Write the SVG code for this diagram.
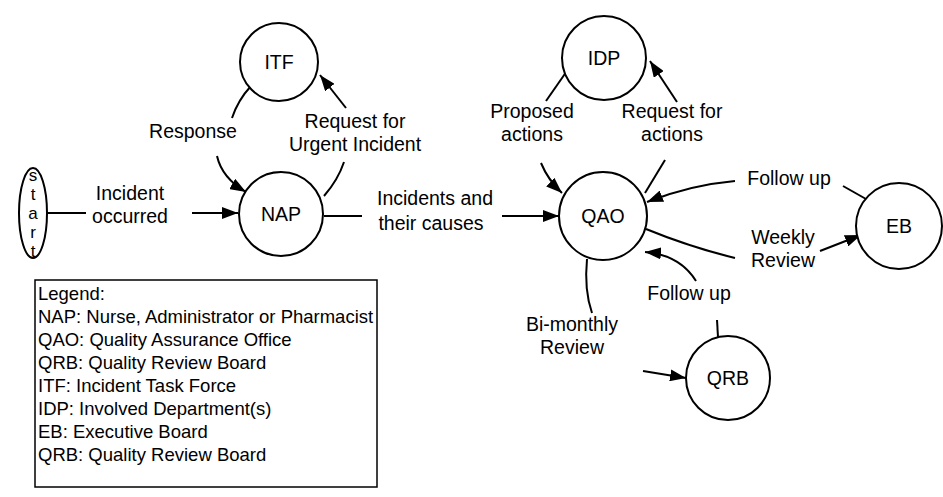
<svg xmlns="http://www.w3.org/2000/svg" width="943" height="497" viewBox="0 0 943 497">
<style>
  .node { fill: #fff; stroke: #000; stroke-width: 2; }
  .lbl { font-family: "Liberation Sans", Arial, sans-serif; font-size: 19.5px; fill: #000; text-anchor: middle; }
  .leg { font-family: "Liberation Sans", Arial, sans-serif; font-size: 18.5px; fill: #000; }
  .c { fill: none; stroke: #000; stroke-width: 2; }
  .vert { writing-mode: vertical-rl; text-orientation: upright; font-size: 17px; }
</style>
<defs>
  <marker id="a" viewBox="0 0 16 12" refX="16" refY="6" markerWidth="16" markerHeight="12" markerUnits="userSpaceOnUse" orient="auto">
    <path d="M0,0 L16,6 L0,12 z" fill="#000"/>
  </marker>
</defs>
<rect width="943" height="497" fill="#fff"/>

<g id="connectors">
  <!-- start -> NAP -->
  <path class="c" d="M47,213 L86,213"/>
  <path class="c" d="M192,213 L238,213" marker-end="url(#a)"/>
  <!-- ITF -> NAP Response -->
  <path class="c" d="M251,86 Q238,100 232,118"/>
  <path class="c" d="M217,156 Q222,178 246,192" marker-end="url(#a)"/>
  <!-- NAP -> ITF Request -->
  <path class="c" d="M324,196 Q338,180 344,162"/>
  <path class="c" d="M346,108 L320,75" marker-end="url(#a)"/>
  <!-- NAP -> QAO -->
  <path class="c" d="M324,216 L362,216"/>
  <path class="c" d="M502,216 L559,216" marker-end="url(#a)"/>
  <!-- IDP -> QAO Proposed -->
  <path class="c" d="M569,68 L546,101"/>
  <path class="c" d="M541,163 Q548,180 562,193" marker-end="url(#a)"/>
  <!-- QAO -> IDP Request for actions -->
  <path class="c" d="M645,193 L665,160"/>
  <path class="c" d="M677,102 L650,61" marker-end="url(#a)"/>
  <!-- EB -> QAO Follow up -->
  <path class="c" d="M843,186 L866,199"/>
  <path class="c" d="M735,181 Q690,185 647,202" marker-end="url(#a)"/>
  <!-- QAO -> EB Weekly Review -->
  <path class="c" d="M646,229 Q690,247 735,258"/>
  <path class="c" d="M820,251 L861,235" marker-end="url(#a)"/>
  <!-- QRB -> QAO Follow up -->
  <path class="c" d="M717,320 L718,337"/>
  <path class="c" d="M696,281 Q680,255 645,252" marker-end="url(#a)"/>
  <!-- QAO -> QRB Bi-monthly -->
  <path class="c" d="M587,259 Q584,290 592,313"/>
  <path class="c" d="M643,371 Q662,374 686,378" marker-end="url(#a)"/>
</g>

<g id="start">
  <ellipse class="node" cx="33" cy="213" rx="14" ry="45"/>
  <text class="lbl vert" x="33" y="213">start</text>
</g>
<g id="NAP">
  <circle class="node" cx="281" cy="214" r="42"/>
  <text class="lbl" x="281" y="221">NAP</text>
</g>
<g id="ITF">
  <circle class="node" cx="279" cy="62" r="39"/>
  <text class="lbl" x="279" y="69">ITF</text>
</g>
<g id="QAO">
  <circle class="node" cx="603" cy="216" r="44"/>
  <text class="lbl" x="603" y="223">QAO</text>
</g>
<g id="IDP">
  <circle class="node" cx="604" cy="58" r="42"/>
  <text class="lbl" x="604" y="65">IDP</text>
</g>
<g id="EB">
  <circle class="node" cx="899" cy="226" r="43"/>
  <text class="lbl" x="899" y="233">EB</text>
</g>
<g id="QRB">
  <circle class="node" cx="728" cy="378" r="42"/>
  <text class="lbl" x="728" y="385">QRB</text>
</g>

<g id="labels">
  <text class="lbl" x="130" y="200">Incident</text>
  <text class="lbl" x="130" y="223">occurred</text>
  <text class="lbl" x="193" y="138">Response</text>
  <text class="lbl" x="355" y="128">Request for</text>
  <text class="lbl" x="355" y="151">Urgent Incident</text>
  <text class="lbl" x="435" y="205">Incidents and</text>
  <text class="lbl" x="431" y="230">their causes</text>
  <text class="lbl" x="532" y="118">Proposed</text>
  <text class="lbl" x="532" y="141">actions</text>
  <text class="lbl" x="672" y="118">Request for</text>
  <text class="lbl" x="672" y="141">actions</text>
  <text class="lbl" x="789" y="185">Follow up</text>
  <text class="lbl" x="783" y="244">Weekly</text>
  <text class="lbl" x="783" y="267">Review</text>
  <text class="lbl" x="689" y="300">Follow up</text>
  <text class="lbl" x="572" y="331">Bi-monthly</text>
  <text class="lbl" x="572" y="354">Review</text>
</g>

<g id="legend">
  <rect x="35" y="280" width="342" height="207" fill="none" stroke="#000" stroke-width="1.5"/>
  <text class="leg" x="38" y="300">Legend:</text>
  <text class="leg" x="38" y="323">NAP: Nurse, Administrator or Pharmacist</text>
  <text class="leg" x="38" y="346">QAO: Quality Assurance Office</text>
  <text class="leg" x="38" y="369">QRB: Quality Review Board</text>
  <text class="leg" x="38" y="392">ITF: Incident Task Force</text>
  <text class="leg" x="38" y="415">IDP: Involved Department(s)</text>
  <text class="leg" x="38" y="438">EB: Executive Board</text>
  <text class="leg" x="38" y="461">QRB: Quality Review Board</text>
</g>
</svg>
